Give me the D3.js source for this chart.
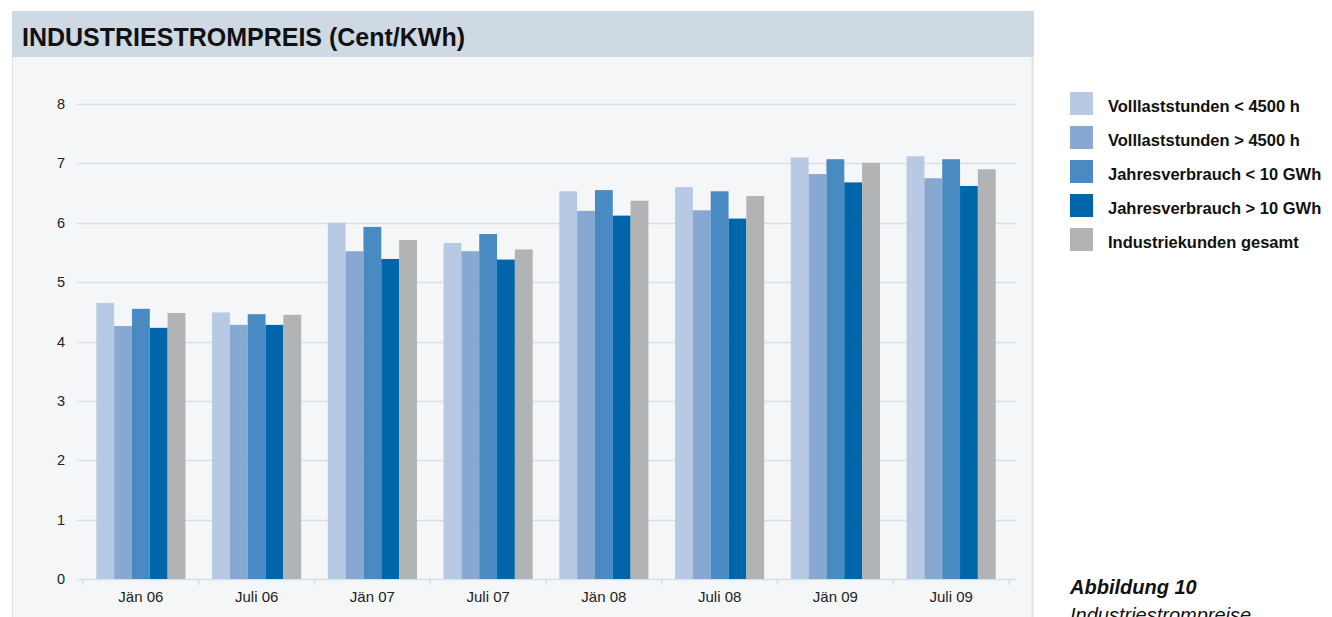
<!DOCTYPE html>
<html>
<head>
<meta charset="utf-8">
<script src="https://cdn.jsdelivr.net/npm/d3@7.9.0/dist/d3.min.js"></script>
<style>
  body { margin: 0; background: #fff; }
  svg { display: block; font-family: "Liberation Sans", Arial, sans-serif; }
</style>
</head>
<body>
<svg id="chart" width="1332" height="617"></svg>
<script>
const periods = ['Jän 06', 'Juli 06', 'Jän 07', 'Juli 07', 'Jän 08', 'Juli 08', 'Jän 09', 'Juli 09'];
const seriesNames = [
  'Volllaststunden < 4500 h',
  'Volllaststunden > 4500 h',
  'Jahresverbrauch < 10 GWh',
  'Jahresverbrauch > 10 GWh',
  'Industriekunden gesamt'
];
const vollUnter = [4.65, 4.49, 6.00, 5.66, 6.53, 6.60, 7.10, 7.12];
const vollUeber = [4.26, 4.28, 5.52, 5.52, 6.20, 6.21, 6.82, 6.75];
const verbrauchUnter = [4.55, 4.46, 5.93, 5.81, 6.55, 6.53, 7.07, 7.07];
const verbrauchUeber = [4.23, 4.28, 5.39, 5.38, 6.12, 6.07, 6.68, 6.62];
const gesamt = [4.48, 4.45, 5.71, 5.55, 6.37, 6.45, 7.01, 6.90];
const yTicks = [0, 1, 2, 3, 4, 5, 6, 7, 8];
const colors = ['#b8c9e3', '#87a9d1', '#4a8ac2', '#0066aa', '#b2b3b5'];

const allSeries = [vollUnter, vollUeber, verbrauchUnter, verbrauchUeber, gesamt];

const svg = d3.select('#chart');

// panel background + header
svg.append('rect').attr('x', 12).attr('y', 11).attr('width', 1022).attr('height', 620).attr('fill', '#f5f6f8');
svg.append('line').attr('x1', 12.5).attr('x2', 12.5).attr('y1', 57).attr('y2', 617).attr('stroke', '#dde4ec');
svg.append('line').attr('x1', 1032.5).attr('x2', 1032.5).attr('y1', 57).attr('y2', 617).attr('stroke', '#dde4ec').attr('stroke-width', 2);
svg.append('rect').attr('x', 12).attr('y', 11).attr('width', 1022).attr('height', 46).attr('fill', '#cfd9e3');
svg.append('text')
  .attr('x', 22).attr('y', 46)
  .attr('font-size', 25).attr('font-weight', 'bold').attr('fill', '#111')
  .text('INDUSTRIESTROMPREIS (Cent/KWh)');

const x0 = d3.scaleBand().domain(periods).range([83, 1009]).paddingInner(0.23).paddingOuter(0.115);
const x1 = d3.scaleBand().domain(d3.range(seriesNames.length)).range([0, x0.bandwidth()]);
const y = d3.scaleLinear().domain([0, 8]).range([579, 104]);

// grid
svg.append('g').selectAll('line').data(yTicks).join('line')
  .attr('x1', 77).attr('x2', 1016)
  .attr('y1', d => Math.round(y(d)) + 0.5).attr('y2', d => Math.round(y(d)) + 0.5)
  .attr('stroke', '#d6dfea').attr('stroke-width', 1.5);

// y labels
svg.append('g').selectAll('text').data(yTicks).join('text')
  .attr('x', 65).attr('y', d => y(d) + 5)
  .attr('text-anchor', 'end').attr('font-size', 14.5).attr('fill', '#222')
  .text(d => d);

// bars
const groups = svg.append('g').selectAll('g').data(periods).join('g')
  .attr('transform', p => `translate(${x0(p)},0)`);
groups.selectAll('rect')
  .data((p, i) => allSeries.map((s, k) => ({ k, v: s[i] })))
  .join('rect')
  .attr('x', d => x1(d.k))
  .attr('width', x1.bandwidth())
  .attr('y', d => y(d.v))
  .attr('height', d => y(0) - y(d.v))
  .attr('fill', d => colors[d.k]);

// x axis
const xAxis = d3.axisBottom(x0).tickSize(0).tickPadding(12);
const ax = svg.append('g').attr('transform', `translate(0,${y(0)})`).call(xAxis);
ax.select('.domain').remove();
ax.selectAll('text').attr('font-size', 15).attr('fill', '#222').attr('font-family', '"Liberation Sans", Arial, sans-serif');
const step = x0.step();
svg.append('g').selectAll('line').data(d3.range(periods.length + 1)).join('line')
  .attr('x1', i => 83 + i * step).attr('x2', i => 83 + i * step)
  .attr('y1', y(0)).attr('y2', y(0) + 6)
  .attr('stroke', '#d6dfea').attr('stroke-width', 1.5);

// legend
const legend = svg.append('g').selectAll('g').data(seriesNames).join('g')
  .attr('transform', (d, i) => `translate(1070,${92 + i * 34})`);
legend.append('rect').attr('width', 23).attr('height', 23).attr('fill', (d, i) => colors[i]);
legend.append('text')
  .attr('x', 38).attr('y', 20)
  .attr('font-size', 16.5).attr('font-weight', 'bold').attr('fill', '#111')
  .text(d => d);

// caption
svg.append('text').attr('x', 1070).attr('y', 594)
  .attr('font-size', 20).attr('font-style', 'italic').attr('font-weight', 'bold').attr('fill', '#111')
  .text('Abbildung 10');
svg.append('text').attr('x', 1070).attr('y', 622)
  .attr('font-size', 20).attr('font-style', 'italic').attr('fill', '#111')
  .text('Industriestrompreise');
</script>
</body>
</html>
